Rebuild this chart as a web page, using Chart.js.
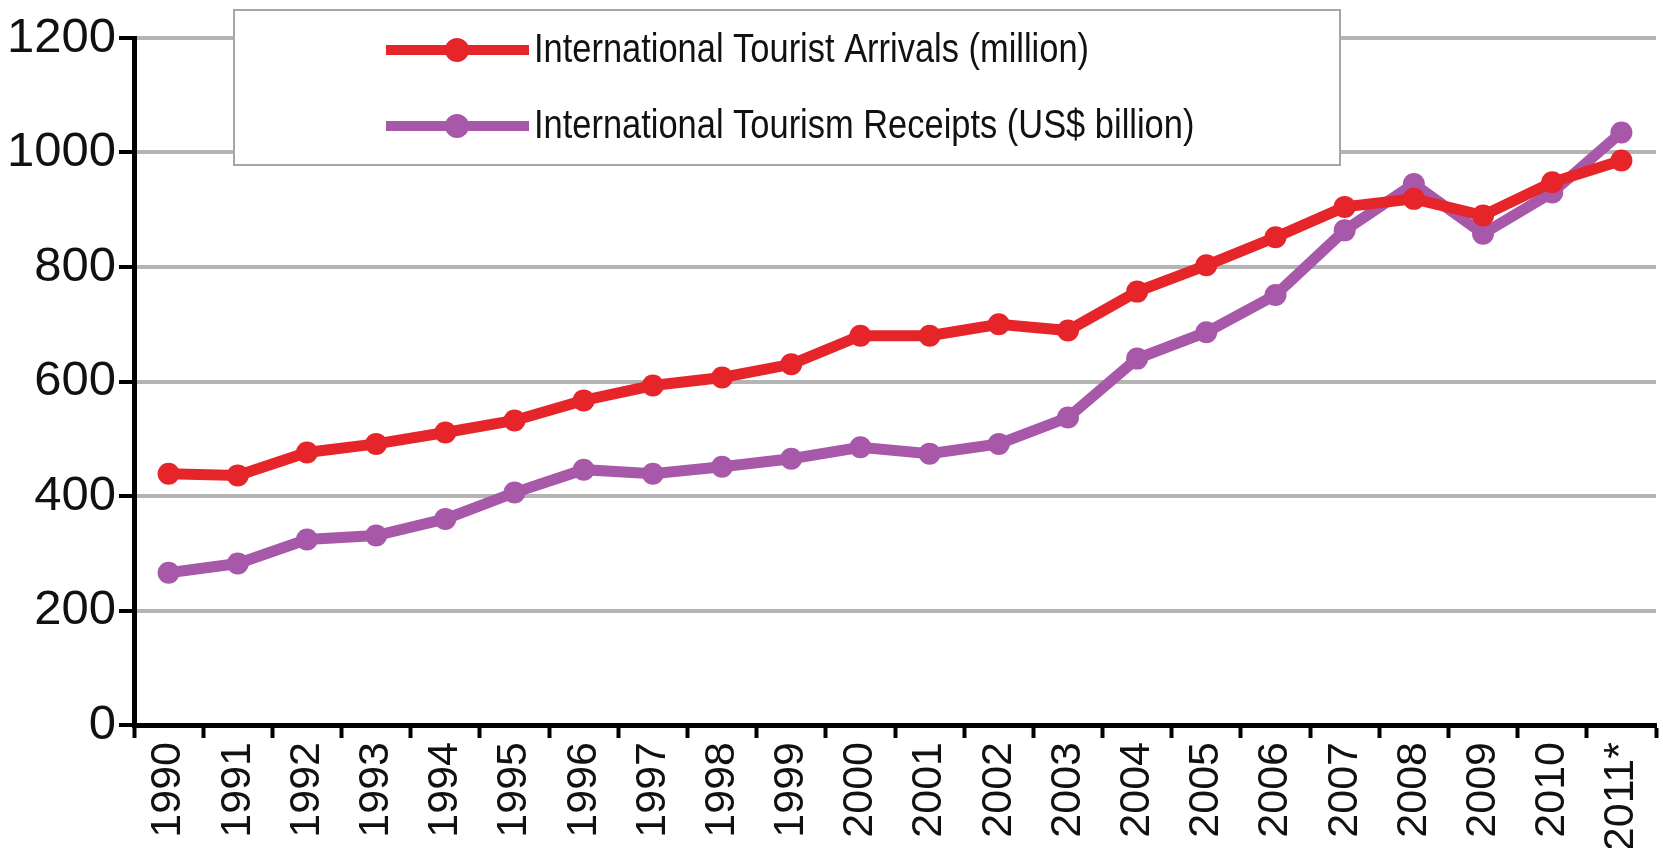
<!DOCTYPE html>
<html>
<head>
<meta charset="utf-8">
<title>International tourism 1990-2011</title>
<script src="https://cdn.jsdelivr.net/npm/chart.js@4.4.1/dist/chart.umd.min.js"></script>
<style>
    html, body { margin: 0; padding: 0; background: #fff; overflow: hidden; }
    /* canvas is a few px wider than the window: the plot runs off the right edge, as in the original */
    #wrap { width: 1667px; height: 848px; }
</style>
</head>
<body>
<div id="wrap"><canvas id="tourism-chart" width="1667" height="848"></canvas></div>
<script>
// ===========================================
// DATA
// ===========================================
const years = ['1990', '1991', '1992', '1993', '1994', '1995', '1996', '1997', '1998', '1999', '2000',
               '2001', '2002', '2003', '2004', '2005', '2006', '2007', '2008', '2009', '2010', '2011*'];
const arrivals = [439, 436, 476, 491, 511, 532, 567, 593, 607, 630, 680,
                  680, 700, 689, 757, 803, 852, 905, 919, 890, 948, 986];
const receipts = [266, 282, 324, 331, 360, 406, 446, 439, 451, 465, 485,
                  474, 491, 537, 640, 686, 751, 864, 945, 858, 930, 1035];
const yTicks = [0, 200, 400, 600, 800, 1000, 1200];
const seriesNames = ['International Tourist Arrivals (million)', 'International Tourism Receipts (US$ billion)'];

const FONT = "'Liberation Sans', Arial, sans-serif";
const RED = '#e5252a';
const PURPLE = '#a858a9';

// ===========================================
// LEGEND (boxed, drawn over the plot)
// ===========================================
const boxLegend = {
    id: 'boxLegend',
    afterDraw(chart) {
        const ctx = chart.ctx;
        ctx.save();
        ctx.fillStyle = '#fff';
        ctx.fillRect(234, 10, 1106, 155);
        ctx.strokeStyle = '#a6a6a6';
        ctx.lineWidth = 2;
        ctx.strokeRect(234, 10, 1106, 155);

        chart.data.datasets.forEach(function(ds, i) {
            const y = 50 + i * 76;
            ctx.strokeStyle = ds.borderColor;
            ctx.lineWidth = 10;
            ctx.beginPath();
            ctx.moveTo(386, y);
            ctx.lineTo(529, y);
            ctx.stroke();
            ctx.fillStyle = ds.borderColor;
            ctx.beginPath();
            ctx.arc(457, y, 12, 0, Math.PI * 2);
            ctx.fill();

            // narrow lettering, like the original
            ctx.save();
            ctx.translate(534, y + 1);
            ctx.scale(0.84, 1);
            ctx.fillStyle = '#111';
            ctx.font = '41px ' + FONT;
            ctx.textBaseline = 'middle';
            ctx.textAlign = 'left';
            ctx.fillText(ds.label, 0, 0);
            ctx.restore();
        });
        ctx.restore();
    }
};

// ===========================================
// CHART
// ===========================================
function makeSeries(label, values, color) {
    return {
        label: label,
        data: values,
        borderColor: color,
        backgroundColor: color,
        borderWidth: 11,
        pointRadius: 11,
        pointHoverRadius: 11,
        pointBorderWidth: 0,
        tension: 0,
        fill: false
    };
}

new Chart(document.getElementById('tourism-chart'), {
    type: 'line',
    data: {
        labels: years,
        datasets: [
            makeSeries(seriesNames[0], arrivals, RED),
            makeSeries(seriesNames[1], receipts, PURPLE)
        ]
    },
    options: {
        responsive: false,
        animation: false,
        layout: { padding: { top: 38, right: 0, left: 0, bottom: 0 } },
        plugins: {
            legend: { display: false },
            tooltip: { enabled: false }
        },
        scales: {
            x: {
                offset: true,
                grid: {
                    offset: true,
                    drawOnChartArea: false,
                    tickLength: 13,
                    tickColor: '#000',
                    tickWidth: 4
                },
                border: { color: '#000', width: 5 },
                ticks: {
                    autoSkip: false,
                    minRotation: 90,
                    maxRotation: 90,
                    padding: 4,
                    color: '#111',
                    font: { family: FONT, size: 43 }
                },
                afterFit: function(scale) {
                    scale.height = 123;
                    scale.paddingLeft = 0;
                    scale.paddingRight = 0;
                }
            },
            y: {
                min: 0,
                max: 1200,
                afterBuildTicks: function(scale) {
                    scale.ticks = yTicks.map(v => ({ value: v }));
                },
                grid: {
                    color: '#b4b4b4',
                    lineWidth: 4,
                    tickLength: 15,
                    tickColor: '#000',
                    tickWidth: 4
                },
                border: { color: '#000', width: 5 },
                ticks: {
                    padding: 3,
                    color: '#111',
                    font: { family: FONT, size: 49 },
                    callback: function(value) { return String(value); }
                },
                afterFit: function(scale) {
                    scale.width = 134;
                    scale.paddingTop = 0;
                    scale.paddingBottom = 0;
                }
            }
        }
    },
    plugins: [boxLegend]
});
</script>
</body>
</html>
